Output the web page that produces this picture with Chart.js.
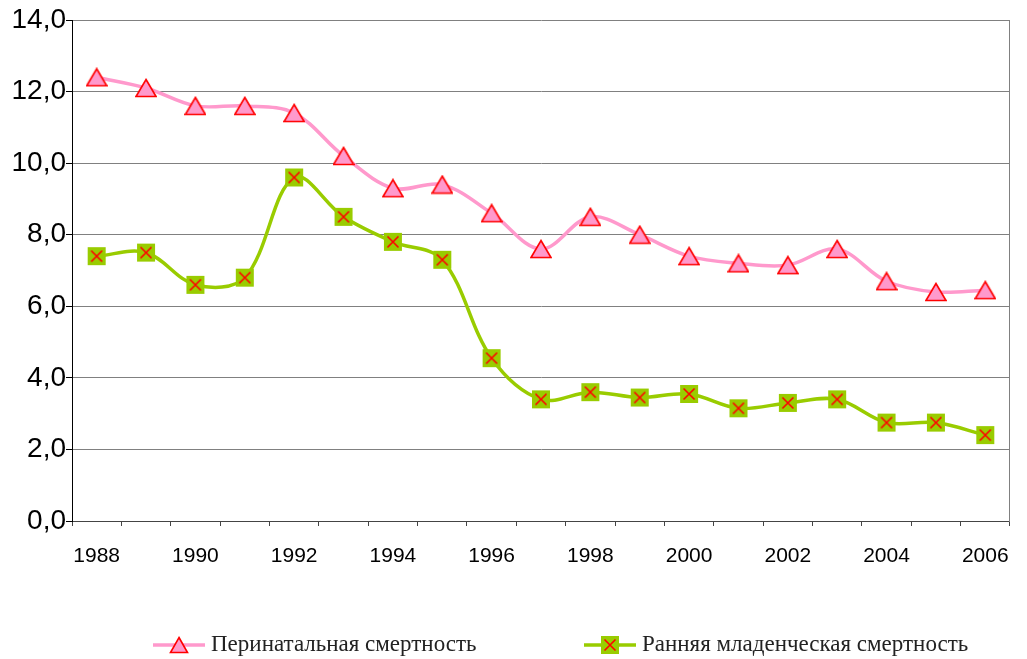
<!DOCTYPE html>
<html>
<head>
<meta charset="utf-8">
<script src="https://cdn.jsdelivr.net/npm/chart.js@4"></script>
<style>
html,body{margin:0;padding:0;background:#fff;}
#c{display:block;}
</style>
</head>
<body>
<canvas id="c" width="1027" height="659"></canvas>
<script>
// ---- data ----
const years = ['1988','1989','1990','1991','1992','1993','1994','1995','1996','1997','1998','1999','2000','2001','2002','2003','2004','2005','2006'];
const perinatal = [12.4, 12.1, 11.6, 11.6, 11.4, 10.2, 9.3, 9.4, 8.6, 7.6, 8.5, 8.0, 7.4, 7.2, 7.15, 7.6, 6.7, 6.4, 6.45];
const earlyNeonatal = [7.4, 7.5, 6.6, 6.8, 9.6, 8.5, 7.8, 7.3, 4.55, 3.4, 3.6, 3.45, 3.55, 3.15, 3.3, 3.4, 2.75, 2.75, 2.4];
const seriesNames = ['Перинатальная смертность', 'Ранняя младенческая смертность'];
const yTickValues = [0, 2, 4, 6, 8, 10, 12, 14];

// ---- marker images ----
const PINK = '#FF99CC', RED = '#FF0000', GREEN = '#99CC00';
// lineLen > 0: legend sample, a line of lineLen px with the marker in its middle,
// preceded by lead px of transparent space
function triangleImg(cw, ch, tw, th, lead, lineLen) {
  const c = document.createElement('canvas'); c.width = cw; c.height = ch;
  const g = c.getContext('2d');
  const cy = ch / 2;
  let cx = cw / 2;
  if (lineLen) {
    g.strokeStyle = PINK; g.lineWidth = 3.5; g.beginPath(); g.moveTo(lead, cy); g.lineTo(lead + lineLen, cy); g.stroke();
    cx = lead + lineLen / 2;
  }
  g.beginPath();
  g.moveTo(cx, cy - th / 2);
  g.lineTo(cx + tw / 2, cy + th / 2);
  g.lineTo(cx - tw / 2, cy + th / 2);
  g.closePath();
  g.fillStyle = PINK; g.fill();
  g.strokeStyle = RED; g.lineWidth = 1.6; g.lineJoin = 'miter'; g.stroke();
  return c;
}
function squareImg(cw, ch, s, xs, lead, lineLen) {
  const c = document.createElement('canvas'); c.width = cw; c.height = ch;
  const g = c.getContext('2d');
  const cy = ch / 2;
  let cx = cw / 2;
  if (lineLen) {
    g.strokeStyle = GREEN; g.lineWidth = 3.5; g.beginPath(); g.moveTo(lead, cy); g.lineTo(lead + lineLen, cy); g.stroke();
    cx = lead + lineLen / 2;
  }
  g.fillStyle = GREEN; g.fillRect(cx - s / 2, cy - s / 2, s, s);
  g.strokeStyle = RED; g.lineWidth = 1.6;
  g.beginPath();
  g.moveTo(cx - xs / 2, cy - xs / 2); g.lineTo(cx + xs / 2, cy + xs / 2);
  g.moveTo(cx + xs / 2, cy - xs / 2); g.lineTo(cx - xs / 2, cy + xs / 2);
  g.stroke();
  return c;
}
const triPoint = triangleImg(22, 20, 20, 17, 0, 0);
const sqPoint = squareImg(20, 20, 18, 11, 0, 0);
const triLegend = triangleImg(63, 20, 17, 15, 11, 52);
const sqLegend = squareImg(63, 20, 18, 11, 11, 52);
const legendImgs = [triLegend, sqLegend];

const LEGEND_PAD = 102;
const LEGEND_FONT = 23;
const layoutTweak = {
  id: 'layoutTweak',
  afterLayout(chart) {
    const lg = chart.legend;
    if (lg && lg.lineWidths) {
      const cur = (lg.left + LEGEND_PAD + lg.right - lg.lineWidths[0]) / 2;
      const dx = 147.5 - cur;
      lg.left += dx; lg.right += dx;
      const dy = 645 - (lg.top + LEGEND_PAD + LEGEND_FONT / 2);
      lg.top += dy; lg.bottom += dy;
    }
    const xs = chart.scales.x;
    xs.bottom = xs.top + 60;
    xs.height = 60;
  }
};

new Chart(document.getElementById('c'), {
  type: 'line',
  data: {
    labels: years,
    datasets: [
      {
        label: seriesNames[0],
        data: perinatal,
        borderColor: PINK,
        backgroundColor: PINK,
        borderWidth: 3.5,
        tension: 0.35,
        pointStyle: triPoint,
        pointRadius: 10,
        fill: false
      },
      {
        label: seriesNames[1],
        data: earlyNeonatal,
        borderColor: GREEN,
        backgroundColor: GREEN,
        borderWidth: 3.5,
        tension: 0.35,
        pointStyle: sqPoint,
        pointRadius: 10,
        fill: false
      }
    ]
  },
  options: {
    responsive: false,
    animation: false,
    layout: { padding: { left: 0, right: 0, top: 20, bottom: 0 } },
    plugins: {
      tooltip: { enabled: false },
      legend: {
        position: 'bottom',
        align: 'center',
        labels: {
          usePointStyle: true,
          pointStyleWidth: 52,
          padding: LEGEND_PAD,
          color: '#222',
          font: { family: '"Liberation Serif", "Times New Roman", serif', size: LEGEND_FONT },
          generateLabels(chart) {
            const items = Chart.defaults.plugins.legend.labels.generateLabels(chart);
            items.forEach((it, i) => { it.pointStyle = legendImgs[i]; });
            return items;
          }
        }
      }
    },
    scales: {
      x: {
        offset: true,
        grid: { display: true, offset: true, drawOnChartArea: false, drawTicks: true, tickLength: 5, color: '#444' },
        border: { display: true, color: '#444', width: 1 },
        ticks: {
          autoSkip: false,
          maxRotation: 0,
          padding: 18,
          color: '#000',
          font: { family: '"Liberation Sans", Arial, sans-serif', size: 21 },
          callback: (v, i) => (i % 2 === 0 ? years[i] : '')
        },
        afterFit: s => { s.height = 3; }
      },
      y: {
        min: 0, max: 14,
        afterBuildTicks: s => { s.ticks = yTickValues.map(v => ({ value: v })); },
        grid: { color: '#808080', tickColor: '#000', tickLength: 6, drawTicks: true },
        border: { display: true, color: '#000', width: 1 },
        ticks: {
          padding: 0,
          color: '#000',
          font: { family: '"Liberation Sans", Arial, sans-serif', size: 28 },
          callback: v => v.toFixed(1).replace('.', ',')
        },
        afterFit: s => { s.width = 72; }
      },
      y2: {
        position: 'right',
        min: 0, max: 14,
        grid: { drawOnChartArea: false, drawTicks: false },
        border: { display: true, color: '#808080', width: 1 },
        ticks: { display: false },
        afterFit: s => { s.width = 11; }
      }
    }
  },
  plugins: [layoutTweak]
});
</script>
</body>
</html>
